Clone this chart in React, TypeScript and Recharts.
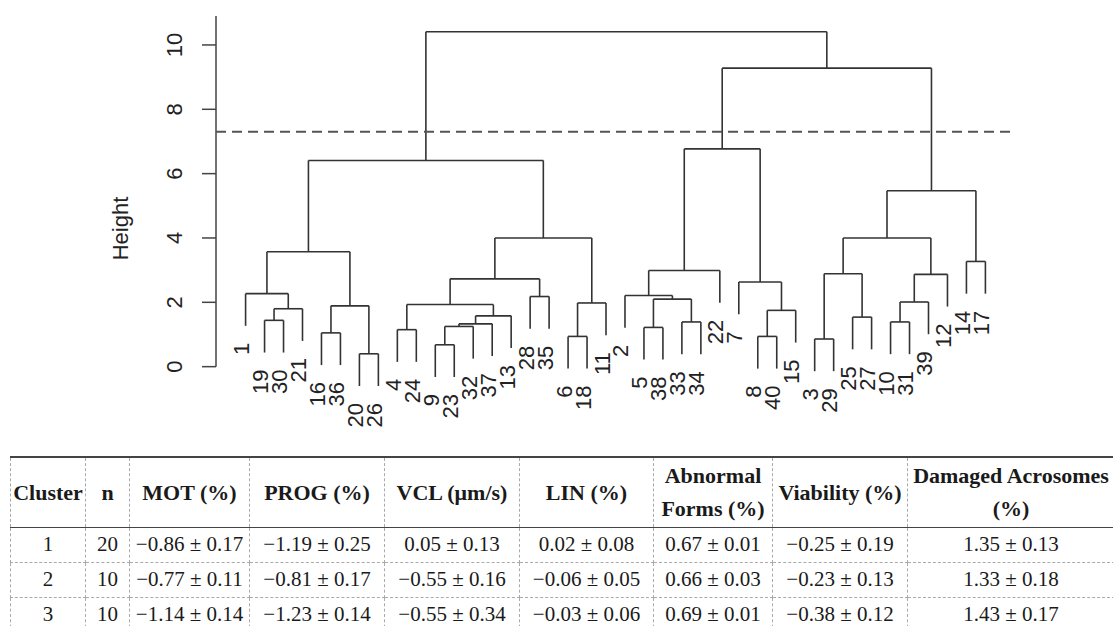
import React from 'react';
import { ComposedChart, XAxis, YAxis, ReferenceLine, Scatter, Label } from 'recharts';

// leaf order along the dendrogram
const leafLabels = [
  '1', '19', '30', '21', '16', '36', '20', '26', '4', '24', '9', '23', '32', '37', '13', '28', '35', '6', '18', '11',
  '2', '5', '38', '33', '34', '22', '7', '8', '40', '15', '3', '29', '25', '27', '10', '31', '39', '12', '14', '17',
];

// hclust-style merge matrix: negative = leaf label, positive = earlier merge step (1-based)
const mergeLeft = [-20, -9, -3, -6, -8, -16, -4, -5, 2, 9, -10, -33, -19, -25, 10, 5, 13, 6, 7, 4, 11, 8, -28, -2, -1, -7, 19, 21, 3, 24, -14, 25, 27, 29, 34, 32, 30, 37, 36];
const mergeRight = [-26, -23, -29, -18, -40, -36, -24, -38, -32, -37, -31, -34, -30, -27, -13, -15, -21, 1, 15, -11, -39, 12, -35, 22, 17, 16, 23, -12, 14, -22, -17, 18, 20, 28, 31, 33, 26, 35, 38];
const mergeHeight = [
  0.40, 0.68, 0.86, 0.94, 0.94, 1.05, 1.15, 1.22, 1.25, 1.33, 1.39, 1.39, 1.44, 1.54, 1.58, 1.75, 1.8, 1.89, 1.93, 1.98,
  2.01, 2.1, 2.18, 2.21, 2.27, 2.63, 2.73, 2.87, 2.89, 2.99, 3.27, 3.57, 4.0, 4.0, 5.47, 6.41, 6.77, 9.28, 10.41,
];
const cutHeight = 7.3;
const yTicks = [0, 2, 4, 6, 8, 10];

// table below the dendrogram
const tableHeaders = ['Cluster', 'n', 'MOT (%)', 'PROG (%)', 'VCL (μm/s)', 'LIN (%)', 'Abnormal\nForms (%)', 'Viability (%)', 'Damaged Acrosomes\n(%)'];
const clusterIds = ['1', '2', '3'];
const clusterN = ['20', '10', '10'];
const motVals = ['−0.86 ± 0.17', '−0.77 ± 0.11', '−1.14 ± 0.14'];
const progVals = ['−1.19 ± 0.25', '−0.81 ± 0.17', '−1.23 ± 0.14'];
const vclVals = ['0.05 ± 0.13', '−0.55 ± 0.16', '−0.55 ± 0.34'];
const linVals = ['0.02 ± 0.08', '−0.06 ± 0.05', '−0.03 ± 0.06'];
const abnormalVals = ['0.67 ± 0.01', '0.66 ± 0.03', '0.69 ± 0.01'];
const viabilityVals = ['−0.25 ± 0.19', '−0.23 ± 0.13', '−0.38 ± 0.12'];
const acrosomeVals = ['1.35 ± 0.13', '1.33 ± 0.18', '1.43 ± 0.17'];

const colWidths = [75, 44, 120, 135, 135, 134, 119, 135, 207];

const hang = 0.1 * (Math.max(...mergeHeight) - Math.min(...mergeHeight));

type Seg = { x1: number; y1: number; x2: number; y2: number };

function buildTree() {
  const nodeX: number[] = [];
  const segs: Seg[] = [];
  const leaves: { x: number; y: number; label: string }[] = [];
  const child = (c: number, h: number) => {
    if (c < 0) {
      const label = String(-c);
      const x = leafLabels.indexOf(label);
      const y = h - hang;
      leaves.push({ x, y, label });
      return { x, y };
    }
    return { x: nodeX[c - 1], y: mergeHeight[c - 1] };
  };
  mergeHeight.forEach((h, i) => {
    const l = child(mergeLeft[i], h);
    const r = child(mergeRight[i], h);
    segs.push({ x1: l.x, y1: l.y, x2: l.x, y2: h });
    segs.push({ x1: r.x, y1: r.y, x2: r.x, y2: h });
    segs.push({ x1: l.x, y1: h, x2: r.x, y2: h });
    nodeX.push((l.x + r.x) / 2);
  });
  return { segs, leaves };
}

const { segs, leaves } = buildTree();

const chartFont = '"Liberation Sans", Arial, sans-serif';
const lineColor = '#333';

const LeafLabel = (props: any) => {
  const { cx, cy, payload } = props;
  return (
    <text
      transform={`translate(${cx - 4},${cy + 17}) rotate(-90)`}
      textAnchor="end"
      dominantBaseline="central"
      fontSize={22}
      fontFamily={chartFont}
      fill="#222"
    >
      {payload.label}
    </text>
  );
};

const YTick = (props: any) => {
  const { x, y, payload } = props;
  return (
    <text
      transform={`translate(${x - 26},${y}) rotate(-90)`}
      textAnchor="middle"
      dominantBaseline="central"
      fontSize={22}
      fontFamily={chartFont}
      fill="#222"
    >
      {payload.value}
    </text>
  );
};

const HeightLabel = (props: any) => {
  const { viewBox } = props;
  const cy = viewBox.y + viewBox.height / 2 + 5;
  return (
    <text
      transform={`translate(${viewBox.x + 120},${cy}) rotate(-90)`}
      textAnchor="middle"
      dominantBaseline="central"
      fontSize={22}
      fontFamily={chartFont}
      fill="#222"
    >
      Height
    </text>
  );
};

const cellBorder = '1px dashed #aaa';

export default function App() {
  const rows = clusterIds.map((id, i) => [
    id, clusterN[i], motVals[i], progVals[i], vclVals[i], linVals[i], abnormalVals[i], viabilityVals[i], acrosomeVals[i],
  ]);
  return (
    <div style={{ position: 'absolute', left: 0, top: 0, width: 1113, height: 626, overflow: 'hidden', background: '#fff' }}>
      <ComposedChart width={1113} height={436} margin={{ top: 16, right: 98, bottom: 5, left: 0 }}>
        <XAxis type="number" dataKey="x" domain={[-1.56, 40.56]} allowDataOverflow hide />
        <YAxis
          type="number"
          dataKey="y"
          domain={[-2, 10.9]}
          allowDataOverflow
          ticks={yTicks}
          width={216}
          axisLine={false}
          tickLine={{ stroke: '#444', strokeWidth: 1.5 }}
          tickSize={14}
          tick={<YTick />}
        >
          <Label content={<HeightLabel />} />
        </YAxis>
        <ReferenceLine
          segment={[{ x: -1.56, y: 0 }, { x: -1.56, y: 10.9 }]}
          stroke="#444"
          strokeWidth={1.5}
          ifOverflow="visible"
        />
        {segs.map((s, i) => (
          <ReferenceLine
            key={i}
            segment={[{ x: s.x1, y: s.y1 }, { x: s.x2, y: s.y2 }]}
            stroke={lineColor}
            strokeWidth={1.6}
            ifOverflow="visible"
          />
        ))}
        <ReferenceLine y={cutHeight} stroke="#555" strokeWidth={2} strokeDasharray="10 6" />
        <Scatter data={leaves} shape={<LeafLabel />} isAnimationActive={false} />
      </ComposedChart>
      <table
        style={{
          position: 'absolute',
          left: 10,
          top: 456,
          borderCollapse: 'collapse',
          tableLayout: 'fixed',
          width: colWidths.reduce((a, b) => a + b, 0),
          fontFamily: '"Liberation Serif", "Times New Roman", serif',
          color: '#1a1a1a',
        }}
      >
        <colgroup>
          {colWidths.map((w, i) => (
            <col key={i} style={{ width: w }} />
          ))}
        </colgroup>
        <thead>
          <tr style={{ height: 70 }}>
            {tableHeaders.map((h, i) => (
              <th
                key={i}
                style={{
                  borderTop: '2px solid #444',
                  borderBottom: '1.5px solid #444',
                  borderLeft: cellBorder,
                  borderRight: cellBorder,
                  fontSize: 22,
                  fontWeight: 700,
                  lineHeight: '33px',
                  padding: 0,
                  whiteSpace: 'pre',
                  textAlign: 'center',
                }}
              >
                {h}
              </th>
            ))}
          </tr>
        </thead>
        <tbody>
          {rows.map((r, ri) => (
            <tr key={ri} style={{ height: 35 }}>
              {r.map((v, ci) => (
                <td
                  key={ci}
                  style={{
                    border: cellBorder,
                    fontSize: 21,
                    padding: 0,
                    textAlign: 'center',
                    whiteSpace: 'nowrap',
                  }}
                >
                  {v}
                </td>
              ))}
            </tr>
          ))}
        </tbody>
      </table>
    </div>
  );
}
